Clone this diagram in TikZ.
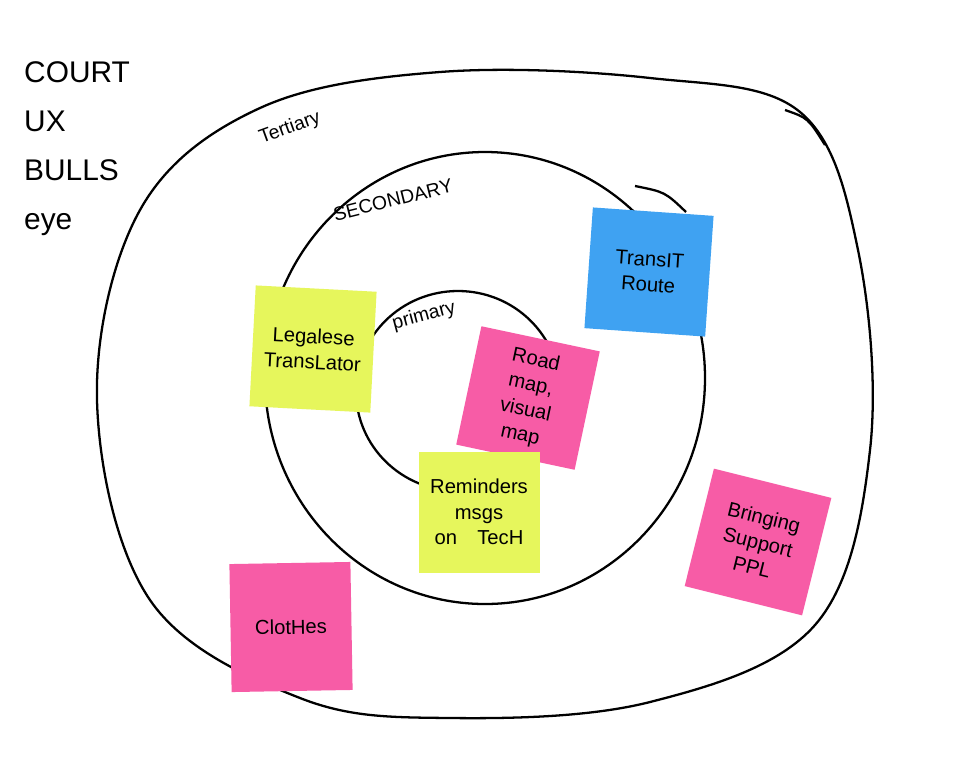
\documentclass[tikz,border=0pt]{standalone}
\usepackage{fontspec}
\setmainfont{Liberation Sans}
\definecolor{sy}{HTML}{E6F65C}
\definecolor{sb}{HTML}{3FA2F2}
\definecolor{sp}{HTML}{F75CA6}
\begin{document}
\begin{tikzpicture}[x=0.02cm,y=-0.02cm,
 ring/.style={line width=1.3pt,black},
 note/.style={minimum width=121*0.02cm,minimum height=121*0.02cm,align=center,font=\fontsize{11.5}{14.5}\selectfont,inner sep=2pt},
 lbl/.style={font=\fontsize{11}{13}\selectfont}]
\useasboundingbox[fill=white] (0,0) rectangle (959,782);
% outer loop
\draw[ring] plot[smooth cycle,tension=0.6] coordinates {(440,72) (260,108) (140,210) (97,400) (150,600) (300,698) (450,718) (650,702) (815,625) (870,450) (858,250) (800,112) (650,78)};
\draw[ring] (785,110) .. controls (808,118) .. (825,145);
% middle ring
\draw[ring] (485,378) ellipse [x radius=220, y radius=226];
\draw[ring] (635,186) .. controls (665,192) .. (686,212);
% inner ring
\draw[ring] (458,391) ellipse [x radius=102, y radius=100];
% labels
\node[font=\fontsize{17}{28}\selectfont,align=left,anchor=north west] (title) at (18,55) {COURT\\UX\\BULLS\\eye};
\node[lbl,rotate=20] (ter) at (290,128) {Tertiary};
\node[lbl,rotate=14] (sec) at (393,200) {SECONDARY};
\node[lbl,rotate=15] (pri) at (424,316) {primary};
% notes
\node[note,fill=sy,rotate=-3] (leg) at (313,349) {Legalese\\TransLator};
\node[note,fill=sb,rotate=-4] (tr) at (649,272) {TransIT\\Route};
\node[note,fill=sp,rotate=-12] (rm) at (528,398) {Road\\map,\\visual\\map};
\node[note,fill=sy] (rem) at (479,512) {Reminders\\msgs\\on\quad TecH};
\node[note,fill=sp,rotate=-14] (br) at (758,542) {Bringing\\Support\\PPL};
\node[note,fill=sp,minimum height=128*0.02cm,rotate=1] (cl) at (291,627) {ClotHes};
\end{tikzpicture}
\end{document}
